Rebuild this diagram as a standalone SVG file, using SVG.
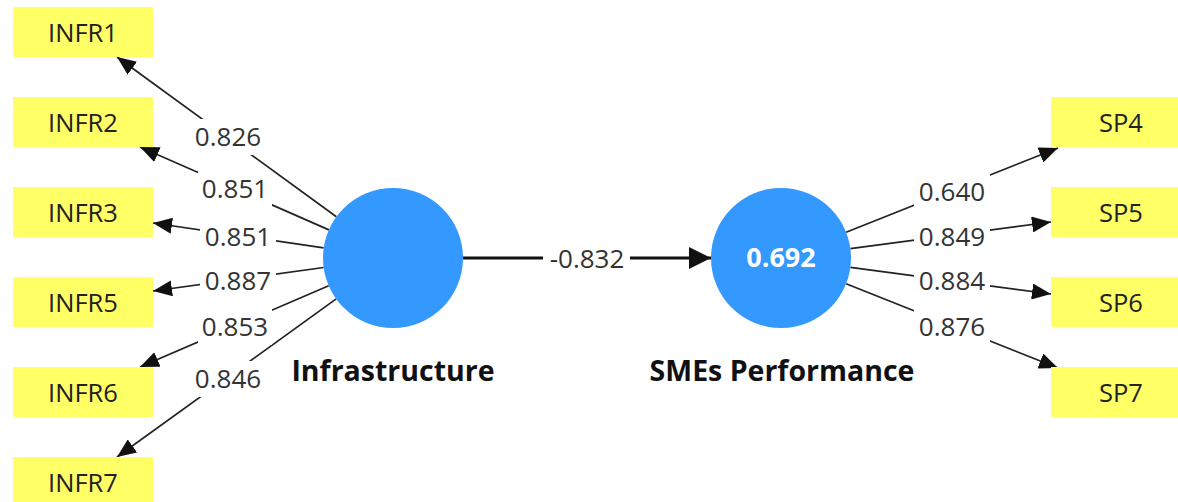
<svg xmlns="http://www.w3.org/2000/svg" width="1178" height="502" viewBox="0 0 1178 502">
  <style>
    .ind rect { fill: #ffff66; }
    .ind text { font-family: "Open Sans", "Noto Sans", sans-serif; font-size: 25.5px; fill: #222; text-anchor: middle; }
    .lv circle { fill: #3399ff; }
    .lv .name { font-family: "Open Sans", "Noto Sans", sans-serif; font-size: 28.5px; font-weight: bold; fill: #111; text-anchor: middle; }
    .lv .r2 { font-family: "Open Sans", "Noto Sans", sans-serif; font-size: 27px; font-weight: bold; fill: #fff; text-anchor: middle; }
    .load { stroke: #222; stroke-width: 1.7; fill: none; marker-end: url(#head); }
    .path { stroke: #111; stroke-width: 3; fill: none; marker-end: url(#bighead); }
    .lblbg { fill: #fff; }
    .lbl { font-family: "Open Sans", "Noto Sans", sans-serif; font-size: 26px; fill: #333; text-anchor: middle; }
  </style>
  <defs>
    <marker id="head" markerUnits="userSpaceOnUse" markerWidth="20" markerHeight="16" refX="19" refY="8" orient="auto">
      <path d="M0,0 L19,8 L0,16 z" fill="#111"/>
    </marker>
    <marker id="bighead" markerUnits="userSpaceOnUse" markerWidth="23" markerHeight="22" refX="22" refY="11" orient="auto">
      <path d="M0,0 L22,11 L0,22 z" fill="#111"/>
    </marker>
  </defs>

  <!-- loadings and structural path -->
  <g id="connectors">
    <line class="load" x1="336.4" y1="216.8" x2="117" y2="57"/>
    <line class="load" x1="328.9" y1="229.9" x2="140" y2="147"/>
    <line class="load" x1="323.7" y1="247.9" x2="153" y2="223"/>
    <line class="load" x1="323.7" y1="267.5" x2="153" y2="291"/>
    <line class="load" x1="328.7" y1="285.7" x2="140" y2="367"/>
    <line class="load" x1="336.2" y1="298.9" x2="117" y2="457"/>

    <line class="load" x1="846.1" y1="232.2" x2="1058" y2="148"/>
    <line class="load" x1="850.4" y1="248.7" x2="1051" y2="222"/>
    <line class="load" x1="850.4" y1="267.3" x2="1051" y2="294"/>
    <line class="load" x1="846.1" y1="283.8" x2="1058" y2="368"/>

    <line class="path" x1="463" y1="258" x2="711" y2="258"/>

    <rect class="lblbg" x="191" y="119" width="74" height="36"/>
    <text class="lbl" x="228" y="146">0.826</text>
    <rect class="lblbg" x="198" y="171" width="74" height="36"/>
    <text class="lbl" x="235" y="198">0.851</text>
    <rect class="lblbg" x="200" y="220" width="76" height="34"/>
    <text class="lbl" x="238" y="246">0.851</text>
    <rect class="lblbg" x="200" y="264" width="76" height="34"/>
    <text class="lbl" x="238" y="290">0.887</text>
    <rect class="lblbg" x="198" y="309" width="74" height="36"/>
    <text class="lbl" x="235" y="336">0.853</text>
    <rect class="lblbg" x="191" y="361" width="74" height="36"/>
    <text class="lbl" x="228" y="388">0.846</text>

    <rect class="lblbg" x="914" y="174" width="76" height="36"/>
    <text class="lbl" x="952" y="201">0.640</text>
    <rect class="lblbg" x="914" y="220" width="76" height="34"/>
    <text class="lbl" x="952" y="246">0.849</text>
    <rect class="lblbg" x="914" y="264" width="76" height="34"/>
    <text class="lbl" x="952" y="290">0.884</text>
    <rect class="lblbg" x="914" y="309" width="76" height="36"/>
    <text class="lbl" x="952" y="336">0.876</text>

    <rect class="lblbg" x="543" y="241" width="87" height="34"/>
    <text class="lbl" x="587" y="268">-0.832</text>
  </g>

  <!-- indicators -->
  <g id="INFR1" class="ind"><rect x="13" y="7" width="140" height="50"/><text x="83" y="42">INFR1</text></g>
  <g id="INFR2" class="ind"><rect x="13" y="97" width="140" height="50"/><text x="83" y="132">INFR2</text></g>
  <g id="INFR3" class="ind"><rect x="13" y="187" width="140" height="50"/><text x="83" y="222">INFR3</text></g>
  <g id="INFR5" class="ind"><rect x="13" y="277" width="140" height="50"/><text x="83" y="312">INFR5</text></g>
  <g id="INFR6" class="ind"><rect x="13" y="367" width="140" height="50"/><text x="83" y="402">INFR6</text></g>
  <g id="INFR7" class="ind"><rect x="13" y="457" width="140" height="50"/><text x="83" y="492">INFR7</text></g>

  <g id="SP4" class="ind"><rect x="1051" y="97" width="140" height="50"/><text x="1121" y="132">SP4</text></g>
  <g id="SP5" class="ind"><rect x="1051" y="187" width="140" height="50"/><text x="1121" y="222">SP5</text></g>
  <g id="SP6" class="ind"><rect x="1051" y="277" width="140" height="50"/><text x="1121" y="312">SP6</text></g>
  <g id="SP7" class="ind"><rect x="1051" y="367" width="140" height="50"/><text x="1121" y="402">SP7</text></g>

  <!-- latent variables -->
  <g id="Infrastructure" class="lv">
    <circle cx="393" cy="258" r="70"/>
    <text class="name" x="393" y="381">Infrastructure</text>
  </g>
  <g id="SMEsPerformance" class="lv">
    <circle cx="781" cy="258" r="70"/>
    <text class="r2" x="781" y="267">0.692</text>
    <text class="name" x="782" y="381">SMEs Performance</text>
  </g>
</svg>
